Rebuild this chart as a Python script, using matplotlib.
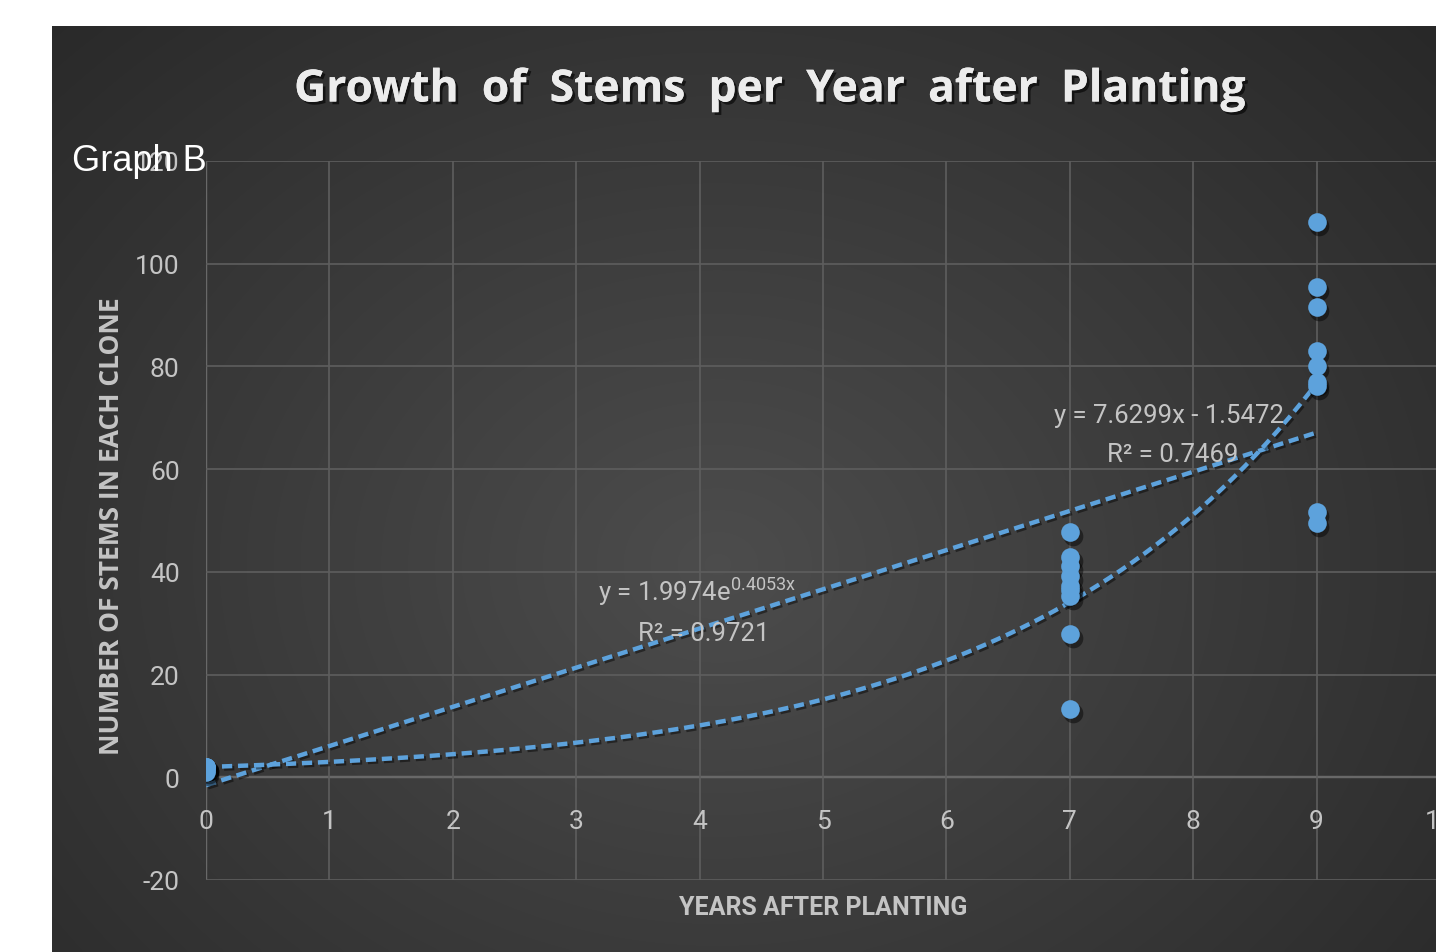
import numpy as np
import matplotlib.pyplot as plt
import matplotlib.patheffects as pe
from matplotlib.transforms import offset_copy

# ---------------- data ----------------
years_0 = [0, 0, 0, 0, 0]
stems_0 = [2, 2, 1.5, 1, 2]
years_7 = [7, 7, 7, 7, 7, 7, 7, 7, 7]
stems_7 = [47.8, 42.9, 41.1, 39.2, 37.2, 35.3, 27.9, 13.3, 36.5]
years_9 = [9, 9, 9, 9, 9, 9, 9, 9, 9]
stems_9 = [108.2, 95.5, 91.6, 83.0, 80.1, 77.0, 76.2, 51.6, 49.5]

lin_slope, lin_icpt = 7.6299, -1.5472
exp_a, exp_b = 1.9974, 0.4053

x_ticks = [0, 1, 2, 3, 4, 5, 6, 7, 8, 9, 10]
y_ticks = [-20, 0, 20, 40, 60, 80, 100, 120]

x = years_0 + years_7 + years_9
y = stems_0 + stems_7 + stems_9

plt.rcParams['axes.unicode_minus'] = False
NARROW = ['Roboto', 'DejaVu Sans']
BLUE = '#5da2dc'
GRID = '#5e5e5e'
TXT = '#c4c4c4'

fig = plt.figure(figsize=(14.36, 9.53), dpi=100)
fig.patch.set_facecolor('white')

# ---------------- dark gradient panel ----------------
bg = fig.add_axes([52 / 1436, 0, 1 - 52 / 1436, 1 - 27 / 953])
bg.set_axis_off()
h, w = 300, 450
yy, xx = np.mgrid[0:h, 0:w]
cx, cy = 0.48 * w, 0.58 * h
r = np.sqrt(((xx - cx) / (0.62 * w)) ** 2 + ((yy - cy) / (0.75 * h)) ** 2)
val = 0.30 - 0.15 * np.clip(r, 0, 1.2) / 1.2
bg.imshow(np.dstack([val, val, val]), aspect='auto', extent=[0, 1, 0, 1],
          interpolation='bicubic')
bg.set_xlim(0, 1)
bg.set_ylim(0, 1)

# ---------------- plot area ----------------
ax = fig.add_axes([206 / 1436, 72 / 953, 1234 / 1436, 719 / 953])
ax.patch.set_alpha(0)
ax.set_xlim(0, 10)
ax.set_ylim(-20, 120)
for s in ax.spines.values():
    s.set_visible(False)
ax.set_xticks(x_ticks)
ax.set_yticks(y_ticks)
ax.grid(True, color=GRID, linewidth=1.2)
ax.tick_params(length=0, colors=TXT, labelsize=19)
for lab in ax.get_xticklabels() + ax.get_yticklabels():
    lab.set_family(NARROW)
ax.tick_params(axis='x', pad=-51)
ax.tick_params(axis='y', pad=19)
ax.axhline(0, color='#9c9c9c', linewidth=1.6, zorder=1)
ax.axvline(0, color='#9c9c9c', linewidth=1.6, zorder=1)

# trendlines from the equations shown on the chart
xs = np.linspace(0, 9, 200)
shadow = [pe.SimpleLineShadow(offset=(1.5, -1.5), shadow_color='black', alpha=0.45), pe.Normal()]
ax.plot(xs, lin_slope * xs + lin_icpt, color=BLUE, linewidth=3.2, dashes=(2.3, 1.3),
        path_effects=shadow, zorder=3)
ax.plot(xs, exp_a * np.exp(exp_b * xs), color=BLUE, linewidth=3.2, dashes=(2.3, 1.3),
        path_effects=shadow, zorder=3)

# points with soft shadow
sh = offset_copy(ax.transData, fig=fig, x=2, y=-3, units='points')
ax.scatter(x, y, s=200, color='black', alpha=0.45, linewidths=0, transform=sh, zorder=4)
ax.scatter(x, y, s=180, color=BLUE, linewidths=0, zorder=5)

# equation labels
plt.rcParams['mathtext.fontset'] = 'custom'
plt.rcParams['mathtext.rm'] = 'Roboto'
eq_kw = dict(color=TXT, fontsize=18.5, family=NARROW, ha='center', va='center', zorder=6)
ax.text(7.8, 70.5, 'y = 7.6299x - 1.5472', **eq_kw)
ax.text(7.83, 62.9, 'R² = 0.7469', **eq_kw)
ax.text(3.98, 36.3, r'y = 1.9974e$^{\mathrm{0.4053x}}$', **eq_kw)
ax.text(4.03, 28.0, 'R² = 0.9721', **eq_kw)

# axis titles
fig.text(823 / 1436, 1 - 908 / 953, 'YEARS AFTER PLANTING', color=TXT, fontsize=18,
         fontweight='bold', family=NARROW, ha='center', va='center')
fig.text(112 / 1436, 1 - 526 / 953, 'NUMBER OF STEMS IN EACH CLONE', color=TXT,
         fontsize=19, fontweight='bold', family=['Open Sans', 'DejaVu Sans'],
         rotation=90, ha='center', va='center')

# chart title
fig.text(770 / 1436, 1 - 91 / 953, 'Growth  of  Stems  per  Year  after  Planting',
         color='#ececec', fontsize=32, fontweight='bold', family=['Open Sans', 'DejaVu Sans'],
         ha='center', va='center',
         path_effects=[pe.withSimplePatchShadow(offset=(2, -2), shadow_rgbFace='black', alpha=0.6),
                       pe.Normal()])

fig.text(72 / 1436, 1 - 162 / 953, 'Graph B', color='white', fontsize=26,
         family=['Liberation Sans', 'DejaVu Sans'], ha='left', va='center')

fig.savefig('out.png', dpi=100)
